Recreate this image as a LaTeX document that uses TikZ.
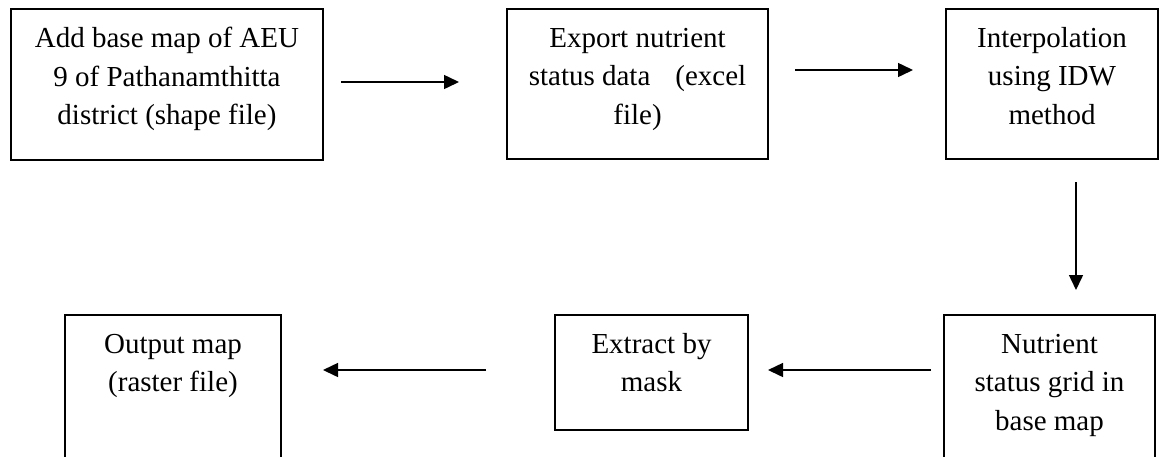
\documentclass[tikz,border=0pt]{standalone}
\usepackage{fontspec}
\setmainfont{Liberation Serif}
\usetikzlibrary{arrows.meta}
\tikzset{
  box/.style={draw, line width=1.5pt, inner sep=0pt, outer sep=0pt},
  txt/.style={inner sep=0pt, align=center, anchor=north, font=\fontsize{29}{38.5}\selectfont},
  arr/.style={line width=1.5pt, -{Triangle[length=15pt,width=14pt]}}
}
\newcommand{\firstline}{\rule{0pt}{25pt}}
\begin{document}
\begin{tikzpicture}[x=1pt,y=-1pt]
\useasboundingbox (0,0) rectangle (1166,456);
\clip (0,0) rectangle (1166,456);
% boxes
\node[box, minimum width=312pt, minimum height=151pt] (b1) at (167,84.5) {};
\node[box, minimum width=261pt, minimum height=150pt] (b2) at (637.5,84) {};
\node[box, minimum width=212pt, minimum height=150pt] (b3) at (1052,84) {};
\node[box, minimum width=211pt, minimum height=155pt] (b4) at (1049.5,392.5) {};
\node[box, minimum width=193pt, minimum height=115pt] (b5) at (651.5,372.5) {};
\node[box, minimum width=216pt, minimum height=155pt] (b6) at (173,392.5) {};
% texts
\node[txt] (t1) at ([yshift=-13.5pt]b1.north) {\firstline Add base map of AEU\\9 of Pathanamthitta\\district (shape file)};
\node[txt] (t2) at ([yshift=-13pt]b2.north) {\firstline Export nutrient\\status data\hspace{25pt}(excel\\file)};
\node[txt] (t3) at ([yshift=-13pt]b3.north) {\firstline Interpolation\\using IDW\\method};
\node[txt] (t4) at ([yshift=-13pt]b4.north) {\firstline Nutrient\\status grid in\\base map};
\node[txt] (t5) at ([yshift=-13pt]b5.north) {\firstline Extract by\\mask};
\node[txt] (t6) at ([yshift=-13pt]b6.north) {\firstline Output map\\(raster file)};
% connectors
\coordinate (c1) at ([yshift=2.5pt]b1.east);
\coordinate (c2) at ([yshift=14pt]b2.east);
\coordinate (c3) at ([xshift=24pt]b3.south);
\coordinate (c4) at ([yshift=2.5pt]b5.east);
\coordinate (c5) at ([yshift=2.5pt]b5.west);
\draw[arr, shorten <=18pt, shorten >=48pt] (c1) -- (c1 -| b2.west);
\draw[arr, shorten <=27pt, shorten >=33pt] (c2) -- (c2 -| b3.west);
\draw[arr, shorten <=23pt, shorten >=25pt] (c3) -- (c3 |- b4.north);
\draw[arr, shorten <=13pt, shorten >=20pt] (c4 -| b4.west) -- (c4);
\draw[arr, shorten <=69pt, shorten >=42pt] (c5) -- (c5 -| b6.east);
\end{tikzpicture}
\end{document}
